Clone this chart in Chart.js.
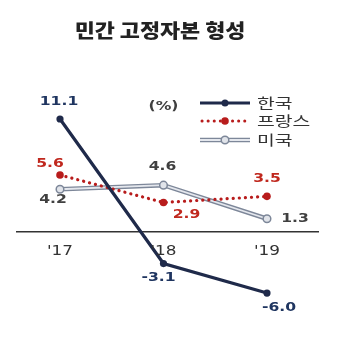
<!DOCTYPE html>
<html><head><meta charset="utf-8">
<script src="https://cdn.jsdelivr.net/npm/chart.js@4/dist/chart.umd.min.js"></script>
<style>html,body{margin:0;padding:0;background:#fff}#w{width:361px;height:346px}</style>
</head><body><div id="w"><canvas id="c"></canvas></div>
<script>
const categories = ["'17", "'18", "'19"];
const seriesNames = ["한국", "프랑스", "미국"];
const korea = [11.1, -3.1, -6.0];
const france = [5.6, 2.9, 3.5];
const usa = [4.2, 4.6, 1.3];
const unitLabel = "(%)";
const titleText = "민간 고정자본 형성";

const toPts = arr => arr.map((v, i) => ({x: i, y: v}));
const NAVY = '#1f2a4a', RED = '#b81c1c', GRAY = '#7d8799';
const SX = 1.3; // horizontal stretch of text

const labelStyle = {
  0: {color: '#1f3560', off: [[-1, -17], [-5, 14], [12, 15]]},
  1: {color: '#c0281e', off: [[-10, -11], [23, 12], [0, -17]]},
  3: {color: '#404040', off: [[-7, 11], [-1, -18], [28, 0]]}
};

function stretchText(ctx, txt, x, y, sx) {
  ctx.save();
  ctx.translate(x, y);
  ctx.scale(sx, 1);
  ctx.fillText(txt, 0, 0);
  ctx.restore();
}

const labelPlugin = {
  id: 'labels',
  afterDraw(chart) {
    const ctx = chart.ctx;
    ctx.save();
    ctx.textBaseline = 'middle';
    // title
    ctx.textAlign = 'center';
    ctx.fillStyle = '#222';
    ctx.font = '900 19.5px "Noto Sans CJK KR"';
    stretchText(ctx, titleText, 160, 31, 1.12);
    // data labels
    ctx.font = 'bold 12px "DejaVu Sans"';
    Object.keys(labelStyle).forEach(k => {
      const di = +k, st = labelStyle[k];
      const meta = chart.getDatasetMeta(di);
      const ds = chart.data.datasets[di];
      meta.data.forEach((p, i) => {
        ctx.fillStyle = st.color;
        stretchText(ctx, ds.data[i].y.toFixed(1), p.x + st.off[i][0], p.y + st.off[i][1], SX);
      });
    });
    // unit
    const xs = chart.scales.x, ys = chart.scales.y;
    ctx.fillStyle = '#404040';
    stretchText(ctx, unitLabel, xs.getPixelForValue(1), ys.getPixelForValue(12.3), SX);
    // x tick labels
    ctx.fillStyle = '#333';
    ctx.font = '13.5px "DejaVu Sans"';
    categories.forEach((c, i) => {
      stretchText(ctx, c, xs.getPixelForValue(i), ys.getPixelForValue(0) + 20, 1.25);
    });
    // legend
    const rows = [
      {name: seriesNames[0], y: 103, draw(x0, x1, y) {
        ctx.strokeStyle = NAVY; ctx.lineWidth = 3; ctx.setLineDash([]);
        ctx.beginPath(); ctx.moveTo(x0, y); ctx.lineTo(x1, y); ctx.stroke();
        ctx.fillStyle = NAVY; ctx.beginPath(); ctx.arc((x0 + x1) / 2, y, 3.5, 0, Math.PI * 2); ctx.fill();
      }},
      {name: seriesNames[1], y: 121, draw(x0, x1, y) {
        ctx.strokeStyle = RED; ctx.lineWidth = 3; ctx.lineCap = 'round'; ctx.setLineDash([0.1, 6]);
        ctx.beginPath(); ctx.moveTo(x0 + 2, y); ctx.lineTo(x1, y); ctx.stroke();
        ctx.setLineDash([]); ctx.lineCap = 'butt';
        ctx.fillStyle = RED; ctx.beginPath(); ctx.arc((x0 + x1) / 2, y, 3.8, 0, Math.PI * 2); ctx.fill();
      }},
      {name: seriesNames[2], y: 140, draw(x0, x1, y) {
        ctx.strokeStyle = GRAY; ctx.lineWidth = 4.5; ctx.setLineDash([]);
        ctx.beginPath(); ctx.moveTo(x0, y); ctx.lineTo(x1, y); ctx.stroke();
        ctx.strokeStyle = '#e4e7ed'; ctx.lineWidth = 1.8;
        ctx.beginPath(); ctx.moveTo(x0, y); ctx.lineTo(x1, y); ctx.stroke();
        ctx.fillStyle = '#e1e4ea'; ctx.strokeStyle = GRAY; ctx.lineWidth = 1.5;
        ctx.beginPath(); ctx.arc((x0 + x1) / 2, y, 3.8, 0, Math.PI * 2); ctx.fill(); ctx.stroke();
      }}
    ];
    rows.forEach(r => {
      r.draw(200, 250, r.y);
      ctx.fillStyle = '#333';
      ctx.font = '14px "Noto Sans CJK KR"';
      ctx.textAlign = 'left';
      stretchText(ctx, r.name, 257, r.y, 1.38);
    });
    ctx.restore();
  }
};

new Chart(document.getElementById('c'), {
  type: 'line',
  data: {
    datasets: [
      {label: seriesNames[0], data: toPts(korea), borderColor: NAVY, borderWidth: 3.2,
       pointRadius: 3.6, pointBorderWidth: 0, pointBackgroundColor: NAVY, order: 0},
      {label: seriesNames[1], data: toPts(france), borderColor: RED, borderWidth: 3.2,
       borderDash: [0.1, 6], borderCapStyle: 'round',
       pointRadius: 3.8, pointBorderWidth: 0, pointBackgroundColor: RED, order: 1},
      {label: seriesNames[2] + ' outer', data: toPts(usa), borderColor: GRAY, borderWidth: 4.5,
       pointRadius: 0, order: 3},
      {label: seriesNames[2], data: toPts(usa), borderColor: '#e4e7ed', borderWidth: 1.8,
       pointRadius: 3.8, pointBackgroundColor: '#e1e4ea', pointBorderColor: GRAY, pointBorderWidth: 1.5, order: 2}
    ]
  },
  options: {
    responsive: true, maintainAspectRatio: false, animation: false,
    layout: {padding: {left: 17, right: 43, top: 89.5, bottom: 32.6}},
    plugins: {legend: {display: false}, tooltip: {enabled: false}, title: {display: false}},
    scales: {
      x: {type: 'linear', min: -0.4155, max: 2.493, position: {y: 0},
        afterBuildTicks: s => { s.ticks = categories.map((c, i) => ({value: i})); },
        ticks: {display: false},
        grid: {display: true, drawOnChartArea: false, drawTicks: false},
        border: {display: true, color: '#333', width: 1.5}},
      y: {display: false, min: -8, max: 14}
    }
  },
  plugins: [labelPlugin]
});
</script></body></html>
